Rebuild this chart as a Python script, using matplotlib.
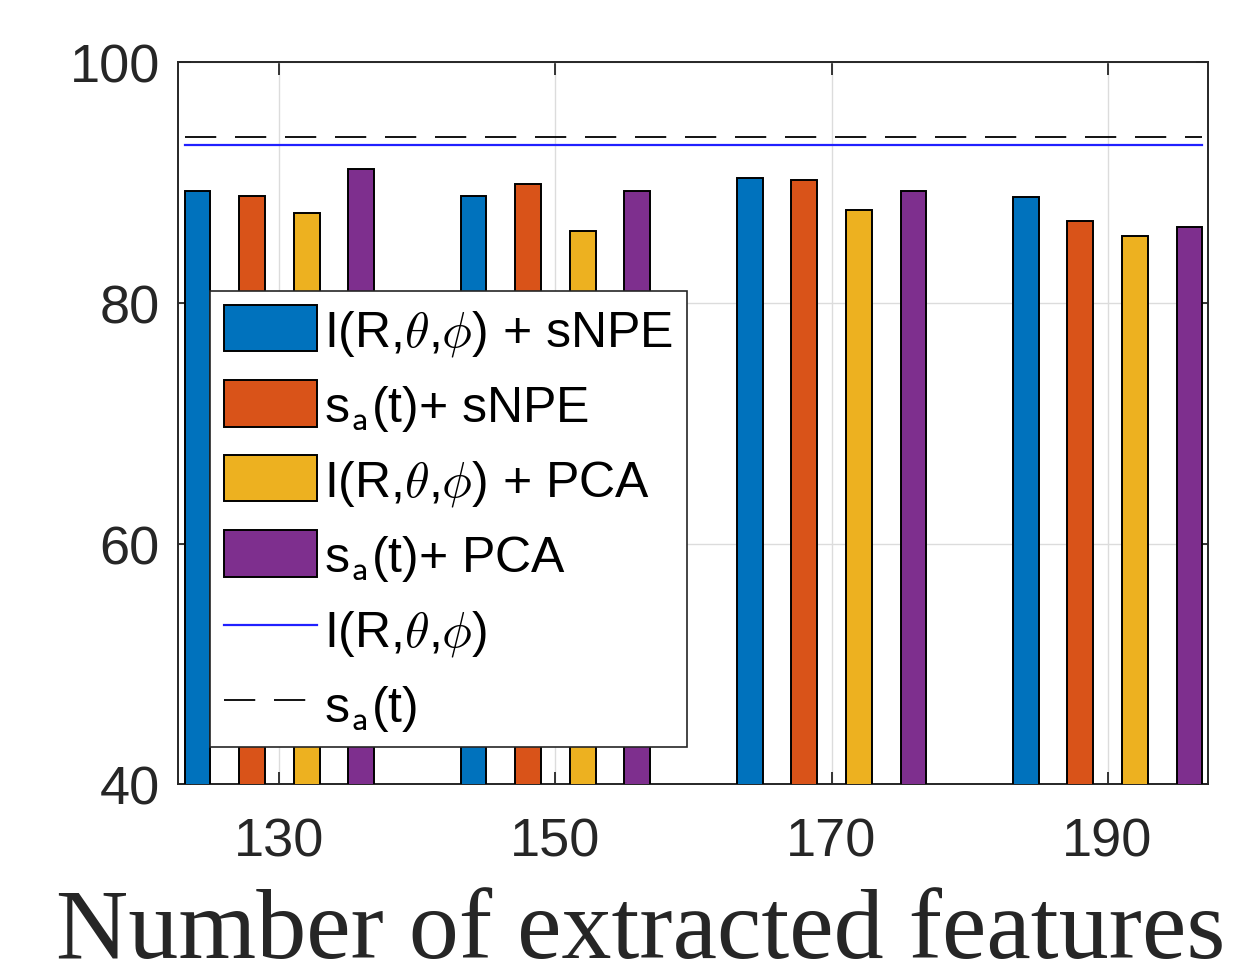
import numpy as np
import matplotlib
matplotlib.use("Agg")
import matplotlib.pyplot as plt

# ---- data ----
n_features = [130, 150, 170, 190]
series_labels = [
    r"I(R,$\theta$,$\phi$) + sNPE",
    r"s$_\mathsf{a}$(t)+ sNPE",
    r"I(R,$\theta$,$\phi$) + PCA",
    r"s$_\mathsf{a}$(t)+ PCA",
]
acc_i_snpe = [89.3, 88.9, 90.4, 88.8]
acc_s_snpe = [88.9, 89.9, 90.2, 86.8]
acc_i_pca = [87.5, 86.0, 87.7, 85.6]
acc_s_pca = [91.1, 89.3, 89.3, 86.3]
baseline_i = 93.13   # I(R,theta,phi) alone
baseline_s = 93.82   # s_a(t) alone

colors = ["#0072BD", "#D95319", "#EDB120", "#7E2F8E"]
offsets = [-5.93, -1.98, 1.98, 5.93]
bar_w = 1.86

plt.rcParams["font.family"] = ["Liberation Sans", "DejaVu Sans"]
plt.rcParams["mathtext.fontset"] = "cm"
plt.rcParams["lines.scale_dashes"] = False

fig = plt.figure(figsize=(12.39, 9.79), dpi=100)
ax = fig.add_axes([0.1437, 0.1978, 0.8315, 0.7375])

x = np.array(n_features, dtype=float)
all_series = [acc_i_snpe, acc_s_snpe, acc_i_pca, acc_s_pca]
handles = []
for vals, off, c, lab in zip(all_series, offsets, colors, series_labels):
    h = ax.bar(x + off, vals, width=bar_w, color=c, edgecolor="black",
               linewidth=1.4, label=lab, zorder=3)
    handles.append(h)

x0 = x[0] + offsets[0] - bar_w / 2
x1 = x[-1] + offsets[-1] + bar_w / 2
l1, = ax.plot([x0, x1], [baseline_i, baseline_i], color="#2020FF", lw=1.6,
              label=r"I(R,$\theta$,$\phi$)", zorder=4)
l2, = ax.plot([x0, x1], [baseline_s, baseline_s], color="black", lw=1.3,
              linestyle=(0, (22.5, 13.5)), label=r"s$_\mathsf{a}$(t)", zorder=4)
handles += [l1, l2]

ax.set_xlim(122.65, 197.3)
ax.set_ylim(40, 100)
ax.set_xticks(n_features)
ax.set_yticks([40, 60, 80, 100])
ax.grid(True, color="#dcdcdc", lw=1.0, zorder=0)
ax.set_axisbelow(True)
ax.tick_params(direction="in", length=9, width=1.3, top=True, right=True,
               labelsize=39, colors="#262626")
ax.tick_params(axis="x", pad=23)
ax.tick_params(axis="y", pad=13)
for s in ax.spines.values():
    s.set_color("#262626")
    s.set_linewidth(1.4)

# x label sits centred on the figure, not the axes
fig.text(0.5173, 0.0, "Number of extracted features", family="Liberation Serif",
         fontsize=72, color="#262626", ha="center", va="bottom")

leg = ax.legend(handles=handles, loc="upper left",
                bbox_to_anchor=(210 / 1239, 1 - 292 / 979),
                bbox_transform=fig.transFigure, borderaxespad=0,
                fontsize=36, handlelength=1.85, handleheight=1.05,
                handletextpad=0.15, labelspacing=0.45, borderpad=0.28,
                fancybox=False, framealpha=1, edgecolor="#262626")
leg.get_frame().set_linewidth(1.2)
leg.set_zorder(5)

fig.savefig("out.png", dpi=100)
